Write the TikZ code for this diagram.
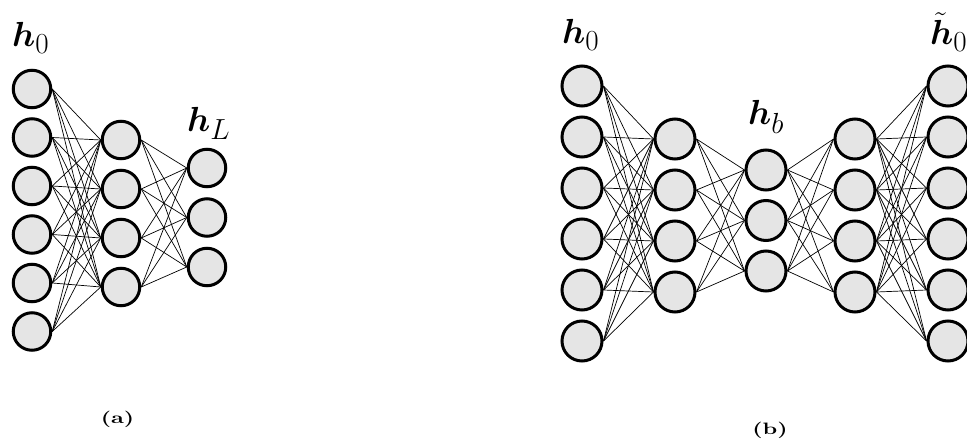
\documentclass[tikz,border=0pt]{standalone}
\usepackage{bm}
\begin{document}
\begin{tikzpicture}[x=1pt,y=-1pt,
  neuronA/.style={circle,draw=black,line width=3pt,fill=black!10,minimum size=37.5pt,inner sep=0pt},
  neuronB/.style={circle,draw=black,line width=3pt,fill=black!10,minimum size=40pt,inner sep=0pt},
  conn/.style={line width=0.7pt,black},
  lbl/.style={anchor=base west,inner sep=0pt},
  captext/.style={inner sep=0pt}]
\clip (0,0) rectangle (967,441);
\useasboundingbox (0,0) rectangle (967,441);
% ---------- (a) ----------
\foreach \i/\y in {1/89,2/137.5,3/186,4/234.5,5/283,6/331.5} \node[neuronA] (a1-\i) at (32,\y) {};
\foreach \i/\y in {1/140,2/189,3/238,4/287} \node[neuronA] (a2-\i) at (121,\y) {};
\foreach \i/\y in {1/168,2/217.5,3/267} \node[neuronA] (a3-\i) at (207,\y) {};
\foreach \i in {1,...,6}{\foreach \j in {1,...,4}{\draw[conn] (a1-\i.east) -- (a2-\j.west);}}
\foreach \i in {1,...,4}{\foreach \j in {1,...,3}{\draw[conn] (a2-\i.east) -- (a3-\j.west);}}
\node[lbl] (la0) at (12,47) {\scalebox{1.4}{\Huge$\bm{h}_0$}};
\node[lbl] (laL) at (187,132) {\scalebox{1.4}{\Huge$\bm{h}_L$}};
\node[captext] (capa) at (117.5,419) {\scalebox{2.3}[1.65]{\textbf{(a)}}};
% ---------- (b) ----------
\foreach \i/\y in {1/86,2/137,3/188,4/239,5/290,6/341} \node[neuronB] (b1-\i) at (582,\y) {};
\foreach \i/\y in {1/139,2/190,3/241,4/292} \node[neuronB] (b2-\i) at (675,\y) {};
\foreach \i/\y in {1/170,2/220.5,3/271} \node[neuronB] (b3-\i) at (766,\y) {};
\foreach \i/\y in {1/139,2/190,3/241,4/292} \node[neuronB] (b4-\i) at (855,\y) {};
\foreach \i/\y in {1/86,2/137,3/188,4/239,5/290,6/341} \node[neuronB] (b5-\i) at (948,\y) {};
\foreach \i in {1,...,6}{\foreach \j in {1,...,4}{\draw[conn] (b1-\i.east) -- (b2-\j.west);}}
\foreach \i in {1,...,4}{\foreach \j in {1,...,3}{\draw[conn] (b2-\i.east) -- (b3-\j.west);}}
\foreach \i in {1,...,3}{\foreach \j in {1,...,4}{\draw[conn] (b3-\i.east) -- (b4-\j.west);}}
\foreach \i in {1,...,4}{\foreach \j in {1,...,6}{\draw[conn] (b4-\i.east) -- (b5-\j.west);}}
\node[lbl] (lb0) at (562,44) {\scalebox{1.4}{\Huge$\bm{h}_0$}};
\node[lbl] (lbb) at (748,125) {\scalebox{1.4}{\Huge$\bm{h}_b$}};
\node[lbl] (lbt) at (930,45) {\scalebox{1.4}{\Huge$\tilde{\bm{h}}_0$}};
\node[captext] (capb) at (770,430) {\scalebox{2.3}[1.65]{\textbf{(b)}}};
\end{tikzpicture}
\end{document}
